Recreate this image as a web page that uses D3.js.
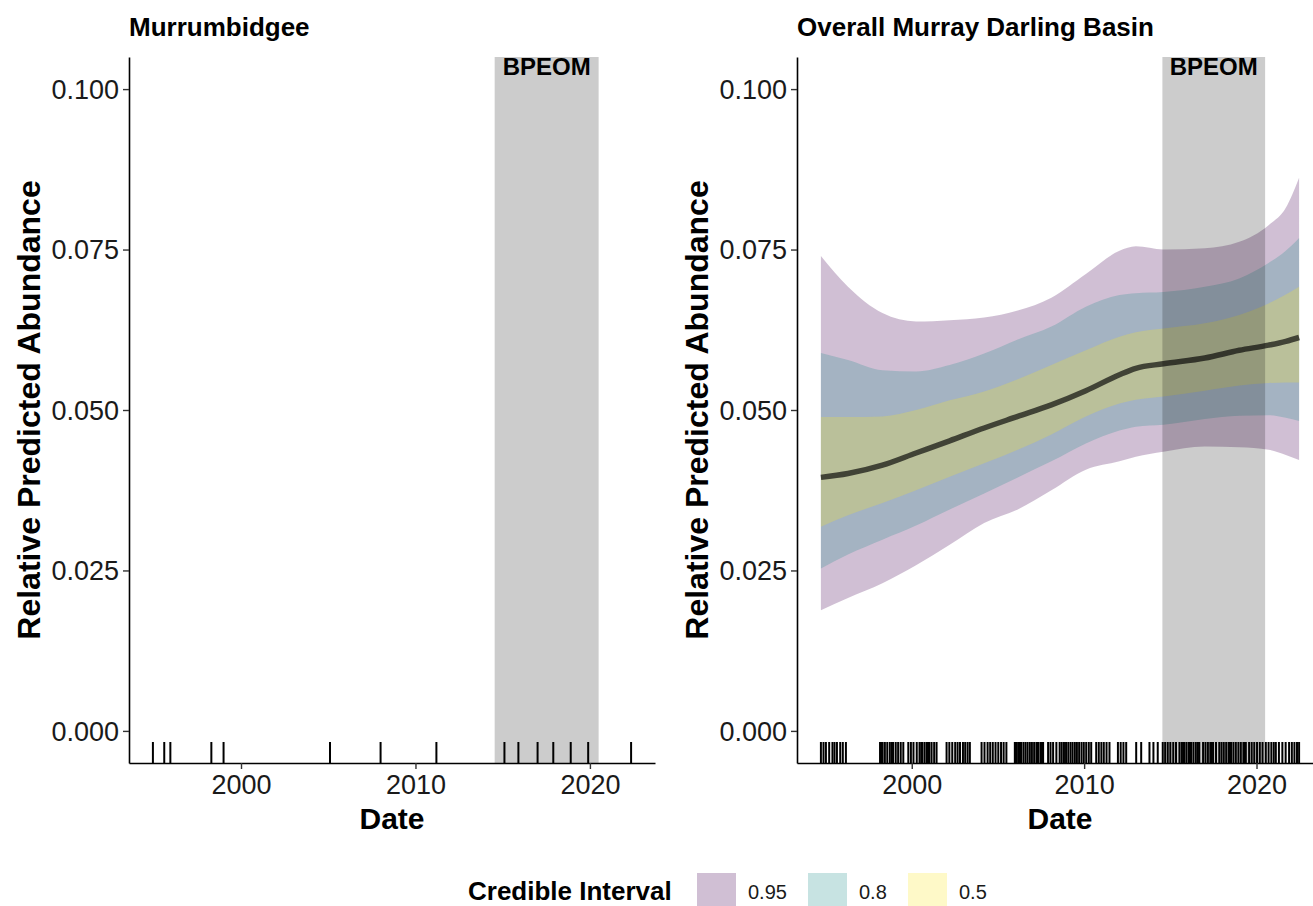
<!DOCTYPE html>
<html>
<head>
<meta charset="utf-8">
<script src="https://cdn.jsdelivr.net/npm/d3@7"></script>
<style>
  body { margin: 0; background: #fff; }
  svg { display: block; }
  text { font-family: "Liberation Sans", Arial, Helvetica, sans-serif; }
</style>
</head>
<body>
<svg id="chart" width="1313" height="906"></svg>
<script>
// ---- axis ticks -------------------------------------------------------
const yTicks = [0, 0.025, 0.05, 0.075, 0.1];
const xTicks = [2000, 2010, 2020];

// ---- BPEOM window (decimal years) -------------------------------------
const bpeomWindow = [2014.54, 2020.5];

// ---- survey dates (decimal years) shown as rug marks -------------------
const murrumbidgeeSurveys = [
  1994.95, 1995.6, 1995.95, 1998.3, 1999.0, 2005.1, 2008.0, 2011.2,
  2015.1, 2015.9, 2017.0, 2017.9, 2018.9, 2019.9, 2022.36
];

const basinSurveys = [
  1994.73, 1994.88, 1995.02, 1995.21, 1995.40, 1995.52, 1995.66, 1995.85, 1996.00, 1996.18,
  1998.16, 1998.24, 1998.31, 1998.44, 1998.58, 1998.73, 1998.85, 1998.92, 1999.07, 1999.21, 1999.36, 1999.51,
  1999.80, 1999.95, 2000.10, 2000.29,
  2000.45, 2000.55, 2000.62, 2000.75, 2000.88, 2000.95, 2001.02, 2001.15, 2001.30, 2001.44,
  2002.02, 2002.18, 2002.35, 2002.52, 2002.66, 2002.80, 2002.97, 2003.10, 2003.24, 2003.37,
  2004.05, 2004.22, 2004.40, 2004.55, 2004.70, 2004.86, 2005.02, 2005.18, 2005.33, 2005.49,
  2005.98, 2006.05, 2006.10, 2006.22, 2006.30, 2006.35, 2006.48, 2006.60, 2006.72, 2006.85, 2006.97, 2007.10,
  2007.23, 2007.30, 2007.36, 2007.49, 2007.56, 2007.62,
  2007.91, 2008.05, 2008.20, 2008.39,
  2008.58, 2008.70, 2008.83, 2008.95, 2009.08, 2009.21, 2009.33, 2009.46, 2009.58, 2009.71,
  2009.85, 2009.98, 2010.12, 2010.27, 2010.41,
  2010.70, 2010.85, 2011.00, 2011.14, 2011.30, 2011.47,
  2011.96, 2012.12, 2012.28, 2012.44,
  2013.02, 2013.31,
  2013.79, 2014.02, 2014.27,
  2014.56, 2014.70, 2014.85, 2015.00, 2015.17, 2015.33,
  2015.53, 2015.66, 2015.74, 2015.80, 2015.93, 2016.06, 2016.14, 2016.20, 2016.34, 2016.48, 2016.60, 2016.68,
  2016.90, 2017.04, 2017.18, 2017.32, 2017.40, 2017.48, 2017.65,
  2017.84, 2017.97, 2018.10, 2018.24, 2018.38, 2018.45, 2018.52, 2018.66, 2018.80, 2018.95, 2019.09,
  2019.24, 2019.30, 2019.38,
  2019.57, 2019.72, 2019.87, 2020.03, 2020.19, 2020.35,
  2020.54, 2020.70, 2020.86, 2021.00, 2021.12,
  2021.30, 2021.50, 2021.69,
  2021.89, 2022.05, 2022.20, 2022.35, 2022.47
];

// ---- basin-wide trend: posterior median and credible bands ------------
const fitYears = [1994.73, 1996.3, 1998.3, 2000.25, 2002.2, 2004.2, 2006.15, 2008.1,
                  2010.1, 2012.05, 2013.0, 2014.6, 2017.0, 2019.0, 2020.7, 2021.7, 2022.47];
const median   = [0.0395, 0.0401, 0.0414, 0.0433, 0.0452, 0.0472, 0.0490, 0.0508,
                  0.0530, 0.0555, 0.0565, 0.0572, 0.0581, 0.0593, 0.0601, 0.0607, 0.0613];
const lower95  = [0.0188, 0.0207, 0.0230, 0.0258, 0.0290, 0.0324, 0.0345, 0.0375,
                  0.0407, 0.0420, 0.0427, 0.0435, 0.0443, 0.0442, 0.0438, 0.0430, 0.0422];
const upper95  = [0.0740, 0.0692, 0.0651, 0.0638, 0.0640, 0.0644, 0.0655, 0.0675,
                  0.0712, 0.0748, 0.0755, 0.0750, 0.0752, 0.0762, 0.0788, 0.0815, 0.0862];
const lower80  = [0.0253, 0.0275, 0.0298, 0.0320, 0.0345, 0.0370, 0.0395, 0.0420,
                  0.0448, 0.0468, 0.0474, 0.0477, 0.0486, 0.0491, 0.0492, 0.0488, 0.0483];
const upper80  = [0.0589, 0.0578, 0.0562, 0.0560, 0.0570, 0.0588, 0.0610, 0.0630,
                  0.0661, 0.0679, 0.0682, 0.0684, 0.0692, 0.0705, 0.0729, 0.0748, 0.0768];
const lower50  = [0.0318, 0.0336, 0.0355, 0.0375, 0.0396, 0.0417, 0.0438, 0.0462,
                  0.0490, 0.0510, 0.0516, 0.0521, 0.0530, 0.0538, 0.0542, 0.0543, 0.0543];
const upper50  = [0.0489, 0.0489, 0.0490, 0.0500, 0.0515, 0.0529, 0.0548, 0.0570,
                  0.0593, 0.0614, 0.0621, 0.0627, 0.0635, 0.0648, 0.0666, 0.0680, 0.0692];

// ---- legend ------------------------------------------------------------
const intervalLevels = ["0.95", "0.8", "0.5"];
const intervalColors = ["#440154", "#21908C", "#FDE725"];
const bandAlpha = 0.25;

// ------------------------------------------------------------------------
const svg = d3.select("#chart");

const panelTop = 57, panelBottom = 763, panelWidth = 526;
const y = d3.scaleLinear().domain([-0.005, 0.105]).range([panelBottom, panelTop]);

function expanded(values) {
  const [lo, hi] = d3.extent(values);
  const pad = (hi - lo) * 0.05;
  return [lo - pad, hi + pad];
}

function drawPanel(left, title, surveys, fit) {
  const g = svg.append("g");
  const xData = fit ? surveys.concat(fit.years) : surveys;
  const x = d3.scaleLinear().domain(expanded(xData)).range([left, left + panelWidth]);

  // credible bands, widest first
  if (fit) {
    const bands = [
      { lo: fit.lower95, hi: fit.upper95, color: intervalColors[0] },
      { lo: fit.lower80, hi: fit.upper80, color: intervalColors[1] },
      { lo: fit.lower50, hi: fit.upper50, color: intervalColors[2] }
    ];
    bands.forEach(b => {
      const area = d3.area()
        .x((d, i) => x(fit.years[i]))
        .y0((d, i) => y(b.lo[i]))
        .y1((d, i) => y(b.hi[i]))
        .curve(d3.curveMonotoneX);
      g.append("path")
        .attr("d", area(fit.years))
        .attr("fill", b.color)
        .attr("fill-opacity", bandAlpha);
    });

    const line = d3.line()
      .x((d, i) => x(fit.years[i]))
      .y((d, i) => y(fit.median[i]))
      .curve(d3.curveMonotoneX);
    g.append("path")
      .attr("d", line(fit.years))
      .attr("fill", "none")
      .attr("stroke", "#000")
      .attr("stroke-opacity", 0.65)
      .attr("stroke-width", 5.5)
      .attr("stroke-linecap", "butt");
  }

  // BPEOM shaded window
  g.append("rect")
    .attr("x", x(bpeomWindow[0]))
    .attr("y", panelTop)
    .attr("width", x(bpeomWindow[1]) - x(bpeomWindow[0]))
    .attr("height", panelBottom - panelTop)
    .attr("fill", "#000")
    .attr("fill-opacity", 0.2);

  g.append("text")
    .attr("x", (x(bpeomWindow[0]) + x(bpeomWindow[1])) / 2)
    .attr("y", panelTop + 17.5)
    .attr("text-anchor", "middle")
    .attr("font-weight", "bold")
    .attr("font-size", 24)
    .attr("fill", "#000")
    .text("BPEOM");

  // rug of survey dates
  g.append("g").selectAll("line")
    .data(surveys)
    .join("line")
    .attr("x1", d => x(d)).attr("x2", d => x(d))
    .attr("y1", panelBottom).attr("y2", panelBottom - 21)
    .attr("stroke", "#000")
    .attr("stroke-width", 2);

  // axes
  const xAxis = g.append("g")
    .attr("transform", `translate(0,${panelBottom})`)
    .call(d3.axisBottom(x).tickValues(xTicks).tickFormat(d3.format("d")).tickSize(6).tickSizeOuter(0));
  const yAxis = g.append("g")
    .attr("transform", `translate(${left},0)`)
    .call(d3.axisLeft(y).tickValues(yTicks).tickFormat(d3.format(".3f")).tickSize(6).tickSizeOuter(0));

  [xAxis, yAxis].forEach(a => {
    a.select(".domain").attr("stroke", "#000").attr("stroke-width", 1.6);
    a.selectAll(".tick line").attr("stroke", "#333").attr("stroke-width", 1.4);
    a.selectAll(".tick text")
      .attr("font-size", 27)
      .attr("fill", "#1a1a1a")
      .style("font-family", '"Liberation Sans", Arial, sans-serif');
  });
  xAxis.selectAll(".tick text").attr("y", 12).attr("dy", "0.71em");
  yAxis.selectAll(".tick text").attr("x", -10).attr("dy", "0.35em");

  // titles
  g.append("text")
    .attr("x", left)
    .attr("y", 36)
    .attr("font-weight", "bold")
    .attr("font-size", 26)
    .text(title);

  g.append("text")
    .attr("x", left + panelWidth / 2)
    .attr("y", 829)
    .attr("text-anchor", "middle")
    .attr("font-weight", "bold")
    .attr("font-size", 30)
    .text("Date");

  g.append("text")
    .attr("transform", `translate(${left - 89},${(panelTop + panelBottom) / 2}) rotate(-90)`)
    .attr("text-anchor", "middle")
    .attr("font-weight", "bold")
    .attr("font-size", 32)
    .text("Relative Predicted Abundance");
}

drawPanel(129, "Murrumbidgee", murrumbidgeeSurveys, null);
drawPanel(797, "Overall Murray Darling Basin", basinSurveys, {
  years: fitYears, median,
  lower95, upper95, lower80, upper80, lower50, upper50
});

// legend
const legend = svg.append("g");
legend.append("text")
  .attr("x", 468).attr("y", 900)
  .attr("font-weight", "bold")
  .attr("font-size", 26)
  .text("Credible Interval");

const keyX = [697, 808, 908];
intervalLevels.forEach((lab, i) => {
  legend.append("rect")
    .attr("x", keyX[i]).attr("y", 873)
    .attr("width", 39).attr("height", 39)
    .attr("fill", intervalColors[i])
    .attr("fill-opacity", bandAlpha);
  legend.append("text")
    .attr("x", keyX[i] + 51).attr("y", 899)
    .attr("font-size", 20)
    .attr("fill", "#1a1a1a")
    .text(lab);
});
</script>
</body>
</html>
